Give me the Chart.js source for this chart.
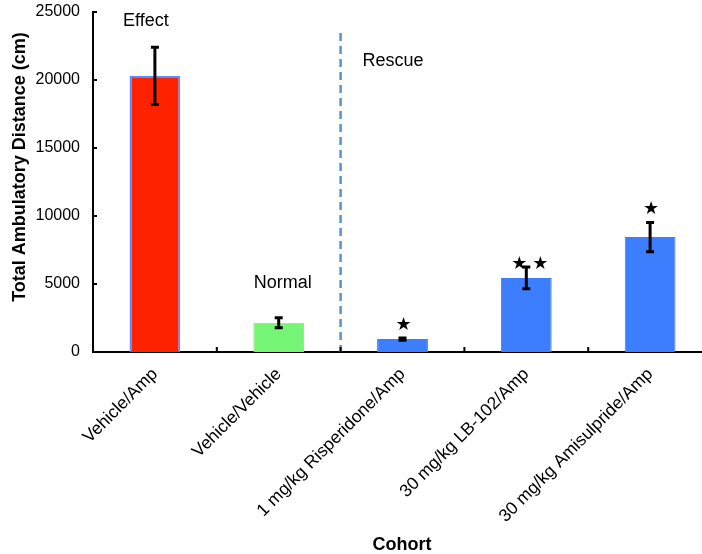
<!DOCTYPE html>
<html lang="en">
<head>
    <meta charset="UTF-8">
    <title>Total Ambulatory Distance by Cohort</title>
    <script src="https://cdn.jsdelivr.net/npm/chart.js@4.4.1/dist/chart.umd.min.js"></script>
    <style>
        html, body {
            margin: 0;
            padding: 0;
            background: #fff;
            overflow: hidden;
        }

        #wrap {
            width: 712px;
            height: 554px;
        }
    </style>
</head>
<body>
    <div id="wrap"><canvas id="distanceChart" width="712" height="554"></canvas></div>

    <script>
        const cohorts = ['Vehicle/Amp', 'Vehicle/Vehicle', '1 mg/kg Risperidone/Amp', '30 mg/kg LB-102/Amp', '30 mg/kg Amisulpride/Amp'];
        const meanDistance = [20300, 2150, 950, 5450, 8450];
        const semDistance = [2100, 370, 80, 800, 1080];
        const starCounts = [0, 0, 1, 2, 1];
        const yTicks = [0, 5000, 10000, 15000, 20000, 25000];
        const groupNotes = ['Effect', 'Normal', 'Rescue'];

        const barColors = ['#ff2200', '#76f476', '#3d7eff', '#3d7eff', '#3d7eff'];
        const barEdges = ['#5b8cff', '#76f476', '#3d7eff', '#3d7eff', '#3d7eff'];
        const FONT = '"Liberation Sans", Arial, sans-serif';

        // error bars, stars, group notes, inward ticks, axis titles
        const extras = {
            id: 'extras',
            afterDatasetsDraw(chart) {
                const ctx = chart.ctx;
                const xs = chart.scales.x;
                const ys = chart.scales.y;
                const meta = chart.getDatasetMeta(0);
                const area = chart.chartArea;

                ctx.save();

                // dashed divider between controls and rescue groups
                ctx.strokeStyle = '#5b93c7';
                ctx.lineWidth = 2.5;
                ctx.setLineDash([8, 5]);
                const xd = xs.getPixelForValue(1.5);
                ctx.beginPath();
                ctx.moveTo(xd, 33);
                ctx.lineTo(xd, area.bottom);
                ctx.stroke();
                ctx.setLineDash([]);

                // error bars
                ctx.strokeStyle = '#000';
                ctx.lineWidth = 3;
                meta.data.forEach((bar, i) => {
                    const top = ys.getPixelForValue(meanDistance[i] + semDistance[i]);
                    const bot = ys.getPixelForValue(meanDistance[i] - semDistance[i]);
                    ctx.beginPath();
                    ctx.moveTo(bar.x, top);
                    ctx.lineTo(bar.x, bot);
                    ctx.moveTo(bar.x - 4, top);
                    ctx.lineTo(bar.x + 4, top);
                    ctx.moveTo(bar.x - 4, bot);
                    ctx.lineTo(bar.x + 4, bot);
                    ctx.stroke();

                    // significance stars
                    ctx.fillStyle = '#000';
                    ctx.font = '18px "DejaVu Sans"';
                    ctx.textAlign = 'center';
                    ctx.textBaseline = 'middle';
                    if (starCounts[i] === 1) {
                        ctx.fillText('\u2605', bar.x + 1, top - 13);
                    } else if (starCounts[i] === 2) {
                        ctx.fillText('\u2605', bar.x - 7, top - 3);
                        ctx.fillText('\u2605', bar.x + 14, top - 3);
                    }
                });

                // group notes
                ctx.fillStyle = '#000';
                ctx.font = '18px ' + FONT;
                ctx.textAlign = 'center';
                ctx.textBaseline = 'middle';
                ctx.fillText(groupNotes[0], xs.getPixelForValue(0) - 9, ys.getPixelForValue(24300));
                ctx.fillText(groupNotes[1], xs.getPixelForValue(1) + 4, ys.getPixelForValue(5100));
                ctx.textAlign = 'left';
                ctx.fillText(groupNotes[2], xd + 22, ys.getPixelForValue(21400));

                // inward tick marks
                ctx.lineWidth = 2;
                yTicks.forEach(v => {
                    const y = ys.getPixelForValue(v);
                    ctx.beginPath();
                    ctx.moveTo(area.left, y);
                    ctx.lineTo(area.left + 4, y);
                    ctx.stroke();
                });
                for (let k = 0; k < cohorts.length - 1; k++) {
                    const x = xs.getPixelForValue(k + 0.5);
                    ctx.beginPath();
                    ctx.moveTo(x, area.bottom);
                    ctx.lineTo(x, area.bottom - 5);
                    ctx.stroke();
                }

                // axis titles
                ctx.font = 'bold 18px ' + FONT;
                ctx.textAlign = 'center';
                ctx.textBaseline = 'middle';
                ctx.fillText('Cohort', 402, 545);
                ctx.translate(20, 167);
                ctx.rotate(-Math.PI / 2);
                ctx.fillText('Total Ambulatory Distance (cm)', 0, 0);

                ctx.restore();
            }
        };

        const ctx = document.getElementById('distanceChart').getContext('2d');
        new Chart(ctx, {
            type: 'bar',
            data: {
                labels: cohorts,
                datasets: [{
                    data: meanDistance,
                    backgroundColor: barColors,
                    borderColor: barEdges,
                    borderWidth: [2, 1, 1, 1, 1],
                    barPercentage: 0.41,
                    categoryPercentage: 1
                }]
            },
            options: {
                responsive: false,
                animation: false,
                layout: { padding: 0 },
                plugins: {
                    legend: { display: false },
                    tooltip: { enabled: false }
                },
                scales: {
                    x: {
                        grid: { display: false, drawTicks: false },
                        border: { color: '#000', width: 2 },
                        ticks: {
                            color: '#000',
                            font: { family: FONT, size: 17.5 },
                            minRotation: 45,
                            maxRotation: 45,
                            padding: 12,
                            autoSkip: false
                        },
                        afterFit: s => { s.height = 202; }
                    },
                    y: {
                        min: 0,
                        max: 25000,
                        afterBuildTicks: s => { s.ticks = yTicks.map(v => ({ value: v })); },
                        grid: { display: false, drawTicks: false },
                        border: { color: '#000', width: 2 },
                        ticks: {
                            color: '#000',
                            font: { family: FONT, size: 16 },
                            padding: 13,
                            callback: v => String(v)
                        },
                        afterFit: s => {
                            s.width = 93;
                            s.paddingTop = 12;
                            s.paddingBottom = 0;
                        }
                    }
                }
            },
            plugins: [extras]
        });
    </script>
</body>
</html>
